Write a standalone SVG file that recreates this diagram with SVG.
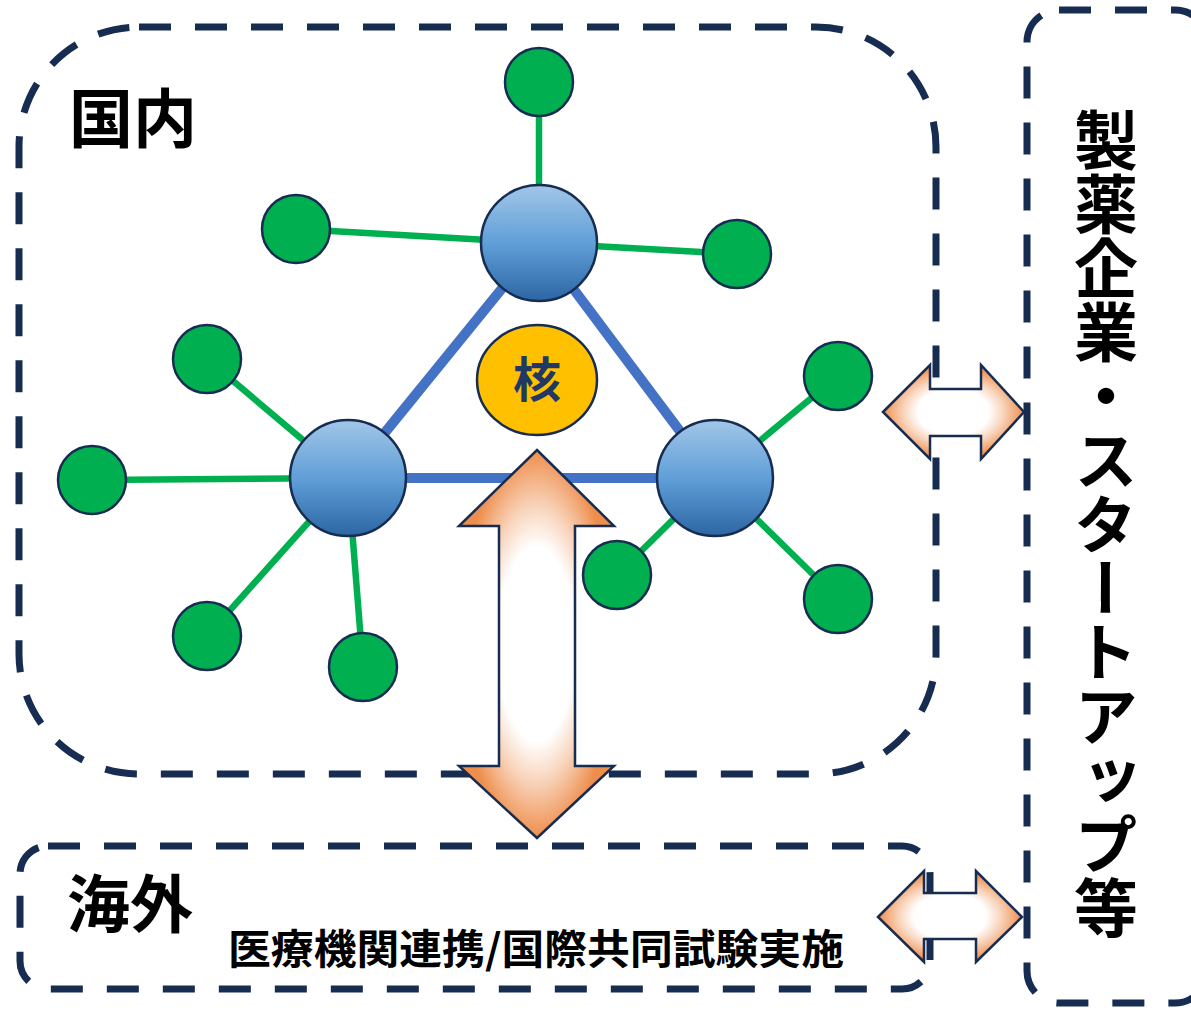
<svg xmlns="http://www.w3.org/2000/svg" width="1191" height="1011" viewBox="0 0 1191 1011">
  <defs>
    <linearGradient id="hubGrad" x1="0" y1="0" x2="0" y2="1">
      <stop offset="0" stop-color="#A2C6E8"/>
      <stop offset="0.5" stop-color="#609FD8"/>
      <stop offset="1" stop-color="#2C66A4"/>
    </linearGradient>
    <radialGradient id="arrowGrad" cx="0.5" cy="0.5" r="0.5">
      <stop offset="0" stop-color="#FFFFFF"/>
      <stop offset="0.5" stop-color="#FFFFFF"/>
      <stop offset="0.7" stop-color="#F9D6BF"/>
      <stop offset="1" stop-color="#EE8E4C"/>
    </radialGradient>
    <style>
      .frame { fill: none; stroke: #172C51; stroke-width: 7; stroke-dasharray: 32 24; }
      .hub { fill: url(#hubGrad); stroke: #172C51; stroke-width: 2.5; }
      .leaf { fill: #00B050; stroke: #172C51; stroke-width: 2.5; }
      .blue { stroke: #4472C4; stroke-width: 10; }
      .green { stroke: #00B050; stroke-width: 6.5; }
      .arrow { fill: url(#arrowGrad); stroke: #172C51; stroke-width: 2.5; stroke-linejoin: miter; }
      .title { font-family: "Noto Sans CJK JP", "Noto Sans", sans-serif; font-weight: 700; fill: #000000; }
    </style>
  </defs>

  <g id="domestic-frame">
    <rect class="frame" x="19" y="27" width="917" height="747" rx="120" ry="120"/>
    <text class="title" x="69" y="142" font-size="64">国内</text>
  </g>

  <g id="overseas-frame">
    <rect class="frame" x="20" y="846" width="910" height="143" rx="28" ry="28"/>
    <text class="title" x="67" y="927" font-size="63">海外</text>
    <text class="title" x="228" y="964" font-size="41" textLength="616" lengthAdjust="spacingAndGlyphs">医療機関連携/国際共同試験実施</text>
  </g>

  <g id="industry-frame">
    <rect class="frame" x="1027" y="10" width="180" height="993" rx="32" ry="32"/>
    <text class="title" x="1106" y="108" font-size="64" style="writing-mode: vertical-rl;">製薬企業・スタートアップ等</text>
  </g>

  <g id="connectors">
    <line class="blue" x1="539" y1="243" x2="348" y2="478"/>
    <line class="blue" x1="539" y1="243" x2="715" y2="478"/>
    <line class="blue" x1="348" y1="478" x2="715" y2="478"/>
    <line class="green" x1="539" y1="243" x2="539" y2="82"/>
    <line class="green" x1="539" y1="243" x2="296" y2="229"/>
    <line class="green" x1="539" y1="243" x2="737" y2="254"/>
    <line class="green" x1="348" y1="478" x2="207" y2="359"/>
    <line class="green" x1="348" y1="478" x2="92" y2="480"/>
    <line class="green" x1="348" y1="478" x2="207" y2="636"/>
    <line class="green" x1="348" y1="478" x2="363" y2="667"/>
    <line class="green" x1="715" y1="478" x2="838" y2="376"/>
    <line class="green" x1="715" y1="478" x2="617" y2="575"/>
    <line class="green" x1="715" y1="478" x2="838" y2="599"/>
  </g>

  <g id="hub-top"><circle class="hub" cx="539" cy="243" r="58"/></g>
  <g id="hub-left"><circle class="hub" cx="348" cy="478" r="58"/></g>
  <g id="hub-right"><circle class="hub" cx="715" cy="478" r="58"/></g>

  <g id="leaf-1"><circle class="leaf" cx="539" cy="82" r="34"/></g>
  <g id="leaf-2"><circle class="leaf" cx="296" cy="229" r="34"/></g>
  <g id="leaf-3"><circle class="leaf" cx="737" cy="254" r="34"/></g>
  <g id="leaf-4"><circle class="leaf" cx="207" cy="359" r="34"/></g>
  <g id="leaf-5"><circle class="leaf" cx="838" cy="376" r="34"/></g>
  <g id="leaf-6"><circle class="leaf" cx="92" cy="480" r="34"/></g>
  <g id="leaf-7"><circle class="leaf" cx="207" cy="636" r="34"/></g>
  <g id="leaf-8"><circle class="leaf" cx="363" cy="667" r="34"/></g>
  <g id="leaf-9"><circle class="leaf" cx="617" cy="575" r="34"/></g>
  <g id="leaf-10"><circle class="leaf" cx="838" cy="599" r="34"/></g>

  <g id="core">
    <ellipse cx="537" cy="380" rx="60" ry="55" fill="#FFC000" stroke="#172C51" stroke-width="2.5"/>
    <text x="537" y="397" font-family="'Noto Sans CJK JP', 'Noto Sans', sans-serif" font-weight="700" font-size="48" fill="#1F3864" text-anchor="middle">核</text>
  </g>

  <g id="arrow-vertical">
    <polygon class="arrow" points="537,450 614,526 575,526 575,766 614,766 537,838 459,766 499,766 499,526 459,526"/>
  </g>
  <g id="arrow-domestic-industry">
    <polygon class="arrow" points="883,412 930,365 930,389 981,389 981,365 1024,412 981,459 981,436 930,436 930,459"/>
  </g>
  <g id="arrow-overseas-industry">
    <polygon class="arrow" points="878,917 924,871 924,893 976,893 976,871 1022,917 976,962 976,939 924,939 924,962"/>
  </g>
</svg>
